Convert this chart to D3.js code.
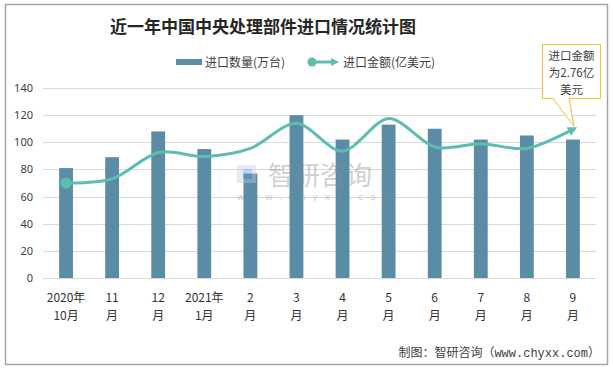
<!DOCTYPE html>
<html>
<head>
<meta charset="utf-8">
<script src="https://cdn.jsdelivr.net/npm/d3@7"></script>
<style>
  body { margin: 0; background: #fff; }
  svg { display: block; font-family: "Noto Sans CJK SC", "Microsoft YaHei", sans-serif; }
</style>
</head>
<body>
<svg id="chart" width="613" height="370"></svg>
<script>
// Months (two-line labels)
const categories = [
  ["2020年", "10月"], ["11", "月"], ["12", "月"], ["2021年", "1月"],
  ["2", "月"], ["3", "月"], ["4", "月"], ["5", "月"],
  ["6", "月"], ["7", "月"], ["8", "月"], ["9", "月"]
];
// 进口数量(万台)
const quantity = [81, 89, 108, 95, 77, 120, 102, 113, 110, 102, 105, 102];
// 进口金额(亿美元), read in the plot's left-axis units (secondary axis hidden)
const amount = [70, 73, 92.5, 89.5, 95.5, 114, 93.5, 117.5, 96.5, 99, 95.5, 109.5];
const yTicks = [0, 20, 40, 60, 80, 100, 120, 140];

const svg = d3.select("#chart");
const margin = { left: 43, right: 17, top: 88, bottom: 92 };
const W = 613, H = 370;

// Outer frame
svg.append("rect")
  .attr("x", 5.5).attr("y", 4.5).attr("width", 602).attr("height", 360)
  .attr("fill", "none").attr("stroke", "#a6a6a6").attr("stroke-width", 1.5);

// Title
svg.append("text")
  .attr("x", 263).attr("y", 33)
  .attr("text-anchor", "middle")
  .style("font-size", "17px").style("font-weight", "bold")
  .attr("fill", "#262626")
  .text("近一年中国中央处理部件进口情况统计图");

const x = d3.scaleBand()
  .domain(d3.range(categories.length))
  .range([margin.left, W - margin.right])
  .paddingInner(0.7).paddingOuter(0.35);
const y = d3.scaleLinear().domain([0, 140]).range([H - margin.bottom, margin.top]);
const cx = (i) => x(i) + x.bandwidth() / 2;

// Gridlines
svg.append("g").selectAll("line").data(yTicks).join("line")
  .attr("x1", margin.left).attr("x2", W - margin.right)
  .attr("y1", (d) => Math.round(y(d)) + 0.5).attr("y2", (d) => Math.round(y(d)) + 0.5)
  .attr("stroke", "#d9d9d9").attr("stroke-width", 1);

// Y axis labels
const yAxis = svg.append("g")
  .attr("transform", `translate(${margin.left - 10},0)`)
  .call(d3.axisLeft(y).tickValues(yTicks).tickSize(0).tickPadding(0));
yAxis.select(".domain").remove();
yAxis.selectAll("text")
  .style("font-size", "11px")
  .style("font-family", "'Noto Sans', 'DejaVu Sans', sans-serif")
  .attr("fill", "#404040");

// Bars
svg.append("g").selectAll("rect").data(quantity).join("rect")
  .attr("x", (d, i) => x(i))
  .attr("y", (d) => y(d))
  .attr("width", x.bandwidth())
  .attr("height", (d) => y(0) - y(d))
  .attr("fill", "#5b8ca6");

// Watermark (sits over the bars)
const wm = svg.append("g").attr("opacity", 0.4);
wm.append("rect").attr("x", 237).attr("y", 165).attr("width", 19).attr("height", 18)
  .attr("fill", "#c5cde0");
wm.append("rect").attr("x", 243).attr("y", 169).attr("width", 9).attr("height", 10)
  .attr("fill", "#5a9fd6");
wm.append("text").attr("x", 268).attr("y", 185)
  .style("font-size", "26px").attr("fill", "#8c8c8c")
  .text("智研咨询");
wm.append("text").attr("x", 237).attr("y", 200)
  .style("font-size", "9px").style("letter-spacing", "6.8px").attr("fill", "#8c8c8c")
  .style("font-family", "'DejaVu Sans', sans-serif")
  .text("www.chyxx.com");

// Arrow marker
const defs = svg.append("defs");
defs.append("marker")
  .attr("id", "arrow")
  .attr("viewBox", "0 0 10 10")
  .attr("refX", 5).attr("refY", 5)
  .attr("markerWidth", 3.2).attr("markerHeight", 3.2)
  .attr("markerUnits", "strokeWidth")
  .attr("orient", "auto")
  .append("path").attr("d", "M0,0 L10,5 L0,10 Z").attr("fill", "#5dbdb1");

// Amount line
const line = d3.line()
  .x((d, i) => cx(i))
  .y((d) => y(d))
  .curve(d3.curveCardinal.tension(0.1));
svg.append("path")
  .datum(amount)
  .attr("d", line)
  .attr("fill", "none")
  .attr("stroke", "#5dbdb1")
  .attr("stroke-width", 3)
  .attr("marker-end", "url(#arrow)");
svg.append("circle")
  .attr("cx", cx(0)).attr("cy", y(amount[0])).attr("r", 5.5)
  .attr("fill", "#5dbdb1");

// X axis labels
const xl = svg.append("g").selectAll("text").data(categories).join("text")
  .attr("text-anchor", "middle")
  .style("font-size", "12px")
  .attr("fill", "#333");
xl.append("tspan").attr("x", (d, i) => cx(i)).attr("y", 302).text((d) => d[0]);
xl.append("tspan").attr("x", (d, i) => cx(i)).attr("y", 320).text((d) => d[1]);

// Legend
const lg = svg.append("g").style("font-size", "12px").attr("fill", "#404040");
lg.append("rect").attr("x", 176).attr("y", 59).attr("width", 26).attr("height", 6).attr("fill", "#5b8ca6");
lg.append("text").attr("x", 205).attr("y", 66.5).text("进口数量(万台)");
lg.append("line").attr("x1", 312).attr("x2", 333).attr("y1", 62).attr("y2", 62)
  .attr("stroke", "#5dbdb1").attr("stroke-width", 3);
lg.append("path").attr("d", "M331,58 L339,62 L331,66 Z").attr("fill", "#5dbdb1");
lg.append("circle").attr("cx", 312).attr("cy", 62).attr("r", 4.5).attr("fill", "#5dbdb1");
lg.append("text").attr("x", 343).attr("y", 66.5).text("进口金额(亿美元)");

// Callout
const tipX = cx(11) + 1, tipY = y(amount[11]) - 3;
svg.append("path")
  .attr("d", `M542.5,44.5 H600.5 V98.5 H569 L${tipX},${tipY} L553,98.5 H542.5 Z`)
  .attr("fill", "#fff").attr("stroke", "#f5c02a").attr("stroke-width", 1);
const co = svg.append("text").attr("text-anchor", "middle")
  .style("font-size", "11.5px").attr("fill", "#404040");
["进口金额", "为2.76亿", "美元"].forEach((t, i) => {
  co.append("tspan").attr("x", 571.5).attr("y", 60 + i * 17).text(t);
});

// Source
svg.append("text")
  .attr("x", 600).attr("y", 357)
  .attr("text-anchor", "end")
  .style("font-size", "12px")
  .style("font-family", "'Liberation Mono', 'Noto Sans CJK SC', monospace")
  .attr("fill", "#404040")
  .text("制图：智研咨询（www.chyxx.com）");
</script>
</body>
</html>
